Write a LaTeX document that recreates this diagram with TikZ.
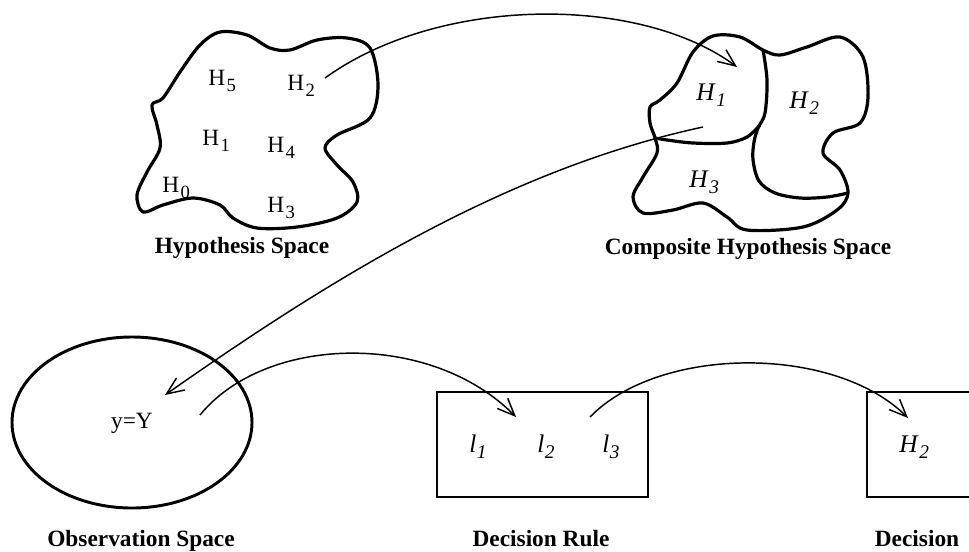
\documentclass[tikz,border=0pt]{standalone}
\usepackage{fontspec}
\setmainfont{Liberation Serif}
\usetikzlibrary{arrows.meta}
\newcommand\Hs[1]{H\kern1.2pt\raisebox{-5pt}{\fontsize{14}{14}\selectfont #1}}
\newcommand\Hi[1]{{\fontsize{19}{21}\selectfont\textit{H}}\kern0.5pt\raisebox{-5pt}{\fontsize{14.5}{15}\selectfont\textit{#1}}}
\newcommand\Li[1]{{\fontsize{19}{21}\selectfont\textit{l}}\kern0.5pt\raisebox{-5pt}{\fontsize{14.5}{15}\selectfont\textit{#1}}}
\begin{document}
\begin{tikzpicture}[x=0.75pt,y=-0.75pt,
  region/.style={line width=2.4pt,line join=round},
  conn/.style={line width=1.1pt,-{Straight Barb[length=13pt,width=11pt,line width=1.1pt]}},
  lab/.style={anchor=base west,inner sep=0pt,font=\fontsize{17.5}{19}\selectfont},
  captext/.style={anchor=base,inner sep=0pt,font=\fontsize{17.5}{20}\selectfont\bfseries}]
\useasboundingbox (0,0) rectangle (969,551);
\fill[white] (0,0) rectangle (969,551);

% Hypothesis space blob
\draw[region] plot[smooth cycle,tension=0.55] coordinates {
 (152,105) (163,98) (180,72) (200,45) (220,32) (247,35) (270,48) (290,50)
 (317,40) (347,38) (370,48) (378,85) (370,118) (337,135) (325,148) (337,165)
 (353,182) (357,202) (337,218) (297,227) (257,228) (233,218) (220,205)
 (193,198) (163,205) (143,212) (137,195) (147,172) (160,148) (157,125)};
\node[lab] (h5) at (208,85) {\Hs{5}};
\node[lab] (h2) at (287,90) {\Hs{2}};
\node[lab] (h1) at (202,145) {\Hs{1}};
\node[lab] (h4) at (267,152) {\Hs{4}};
\node[lab] (h0) at (162,192) {\Hs{0}};
\node[lab] (h3) at (267,212) {\Hs{3}};
\node[captext] (hcap) at (242,253) {Hypothesis Space};

% Composite hypothesis space
\draw[region] plot[smooth cycle,tension=0.55] coordinates {
 (655,138) (650,123) (650,107) (660,100) (677,83) (693,52) (713,36) (740,37)
 (763,50) (780,55) (807,47) (840,37) (863,57) (868,97) (860,123) (833,133)
 (823,153) (840,170) (848,193) (837,210) (803,227) (747,230) (727,217)
 (703,203) (673,210) (643,213) (633,197) (643,177) (657,153)};
\draw[region] plot[smooth,tension=0.55] coordinates {
 (763,50) (767,80) (765,113) (758,128) (754,142) (753,160) (759,181)
 (775,193) (800,198) (827,197) (848,193)};
\draw[region] plot[smooth,tension=0.55] coordinates {
 (760,125) (747,137) (727,143) (693,143) (667,140) (655,138)};
\node[lab] (c1) at (696,100) {\Hi{1}};
\node[lab] (c2) at (789,108) {\Hi{2}};
\node[lab] (c3) at (689,187) {\Hi{3}};
\node[captext] (ccap) at (748,254) {Composite Hypothesis Space};

% Observation space
\draw[line width=2.2pt] (132,422.5) ellipse [x radius=120,y radius=85.5];
\node[anchor=center,inner sep=0pt,font=\fontsize{17.5}{19}\selectfont] (y) at (132,423) {y=Y};
\node[captext] (ocap) at (141,546) {Observation Space};

% Decision rule
\draw[line width=2.2pt] (437,392) rectangle (648,497);
\node[lab] (l1) at (469,452) {\Li{1}};
\node[lab] (l2) at (537,452) {\Li{2}};
\node[lab] (l3) at (602,452) {\Li{3}};
\node[captext] (dcap) at (541,546) {Decision Rule};

% Decision
\begin{scope}
\clip (0,0) rectangle (969,551);
\draw[line width=2.2pt] (867,392) rectangle (1000,497);
\end{scope}
\node[lab] (d2) at (899,452) {\Hi{2}};
\node[captext] (decap) at (917,546) {Decision};

% connector end points
\coordinate (a1s) at (325,78);
\coordinate (a1e) at (737,67);
\coordinate (a2s) at (703,127);
\coordinate (a2e) at (165,395);
\coordinate (a3s) at (200,415);
\coordinate (a3e) at (516,417);
\coordinate (a4s) at (590,417);
\coordinate (a4e) at (908,418);

\draw[conn] (a1s) .. controls (440,-5) and (640,-5) .. (a1e);
\draw[conn] (a2s) .. controls (507,169) and (329,280) .. (a2e);
\draw[conn] (a3s) .. controls (265,335) and (430,330) .. (a3e);
\draw[conn] (a4s) .. controls (660,345) and (835,345) .. (a4e);
\end{tikzpicture}
\end{document}
